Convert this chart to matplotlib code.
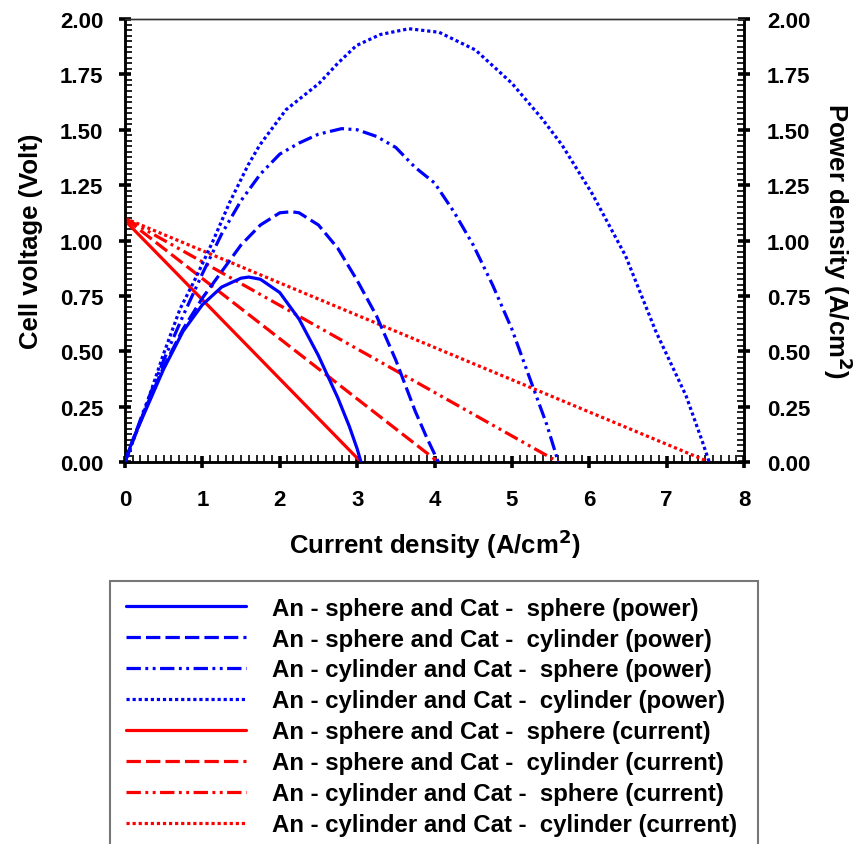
import matplotlib
matplotlib.use("Agg")
import matplotlib.pyplot as plt
from matplotlib.ticker import MultipleLocator

plt.rcParams['font.family'] = ['Liberation Sans', 'DejaVu Sans']

# ---- data ----
I_ss_p = [0, 0.1, 0.25, 0.4, 0.5, 0.75, 1.0, 1.25, 1.5, 1.6, 1.75, 2.0, 2.25, 2.5, 2.75, 2.9, 3.0, 3.05]
P_ss = [0, 0.10, 0.22, 0.34, 0.42, 0.59, 0.71, 0.79, 0.83, 0.835, 0.825, 0.765, 0.645, 0.48, 0.29, 0.16, 0.06, 0]

I_sc_p = [0, 0.25, 0.5, 0.75, 1.0, 1.25, 1.5, 1.75, 2.0, 2.15, 2.25, 2.5, 2.75, 3.0, 3.25, 3.5, 3.75, 3.9, 4.05]
P_sc = [0, 0.23, 0.43, 0.60, 0.74, 0.86, 0.98, 1.07, 1.125, 1.13, 1.125, 1.07, 0.965, 0.82, 0.66, 0.46, 0.23, 0.11, 0]

I_cs_p = [0, 0.25, 0.5, 0.75, 1.0, 1.25, 1.5, 1.75, 2.0, 2.25, 2.5, 2.8, 3.0, 3.25, 3.5, 3.75,
          4.0, 4.25, 4.5, 4.75, 5.0, 5.25, 5.45, 5.6]
P_cs = [0, 0.24, 0.46, 0.66, 0.85, 1.03, 1.18, 1.30, 1.39, 1.44, 1.48, 1.505, 1.50, 1.47, 1.42, 1.33,
        1.26, 1.13, 0.98, 0.80, 0.60, 0.36, 0.17, 0]

I_cc_p = [0, 0.24, 0.49, 0.71, 0.92, 1.14, 1.35, 1.59, 1.74, 2.08, 2.51, 2.75, 2.99, 3.3, 3.67, 4.06,
          4.53, 5.0, 5.39, 5.65, 6.04, 6.47, 6.86, 7.25, 7.46, 7.55]
P_cc = [0, 0.22, 0.48, 0.69, 0.835, 1.0, 1.17, 1.34, 1.43, 1.59, 1.71, 1.80, 1.88, 1.93, 1.956, 1.94,
        1.86, 1.71, 1.55, 1.43, 1.21, 0.93, 0.59, 0.30, 0.094, 0]

I_ss_v = [0, 3.05]
V_ss = [1.09, 0]
I_sc_v = [0, 4.05]
V_sc = [1.1, 0]
I_cs_v = [0, 5.6]
V_cs = [1.1, 0]
I_cc_v = [0, 7.55]
V_cc = [1.1, 0]

x_ticks = [0, 1, 2, 3, 4, 5, 6, 7, 8]
y_ticks = [0, 0.25, 0.5, 0.75, 1.0, 1.25, 1.5, 1.75, 2.0]

labels = [
    "An - sphere and Cat -  sphere (power)",
    "An - sphere and Cat -  cylinder (power)",
    "An - cylinder and Cat -  sphere (power)",
    "An - cylinder and Cat -  cylinder (power)",
    "An - sphere and Cat -  sphere (current)",
    "An - sphere and Cat -  cylinder (current)",
    "An - cylinder and Cat -  sphere (current)",
    "An - cylinder and Cat -  cylinder (current)",
]

# ---- styles ----
lw = 2.3
styles = [
    '-',
    (0, (4.5, 1.6)),
    (0, (4.5, 1.4, 0.9, 1.4, 0.9, 1.4)),
    (0, (1.0, 0.9)),
]
blue = '#0000ff'
red = '#ff0000'

fig = plt.figure(figsize=(8.59, 8.45), dpi=100)
ax = fig.add_axes([125/859, 1-463/845, (744-125)/859, (463-20)/845])
ax2 = ax.twinx()

power = [(I_ss_p, P_ss), (I_sc_p, P_sc), (I_cs_p, P_cs), (I_cc_p, P_cc)]
volt = [(I_ss_v, V_ss), (I_sc_v, V_sc), (I_cs_v, V_cs), (I_cc_v, V_cc)]

handles = []
for (x, y), ls in zip(power, styles):
    h, = ax2.plot(x, y, color=blue, lw=lw, linestyle=ls, solid_capstyle='round',
                  dash_capstyle='butt', solid_joinstyle='round', zorder=3)
    handles.append(h)
for (x, y), ls in zip(volt, styles):
    h, = ax.plot(x, y, color=red, lw=lw, linestyle=ls, solid_capstyle='round',
                 dash_capstyle='butt', zorder=3)
    handles.append(h)

for a in (ax, ax2):
    a.set_xlim(0, 8)
    a.set_ylim(0, 2.0)
    a.yaxis.set_major_locator(MultipleLocator(0.25))
    a.yaxis.set_minor_locator(MultipleLocator(0.025))
    for s in a.spines.values():
        s.set_linewidth(1.8)
        s.set_color('black')
    a.spines['top'].set_linewidth(1.0)
    a.spines['top'].set_color('#333333')

ax.xaxis.set_minor_locator(MultipleLocator(0.1))

ax.tick_params(axis='both', which='major', direction='inout', length=9, width=2.6,
               labelsize=16, pad=11)
ax.tick_params(axis='both', which='minor', direction='in', length=5, width=1.2)
ax.tick_params(axis='x', which='major', pad=15)
ax2.tick_params(axis='y', which='major', direction='inout', length=9, width=2.6,
                labelsize=16, pad=12)
ax2.tick_params(axis='y', which='minor', direction='in', length=5, width=1.2)
ax.set_yticks(y_ticks)
ax2.set_yticks(y_ticks)
ax.set_yticklabels([f"{v:.2f}" for v in y_ticks], fontweight='bold')
ax2.set_yticklabels([f"{v:.2f}" for v in y_ticks], fontweight='bold')
ax.set_xticks(x_ticks)
ax.set_xticklabels([str(v) for v in x_ticks], fontweight='bold')

ax.set_xlabel("Current density (A/cm$^{\\mathbf{2}}$)", fontsize=18.5, fontweight='bold', labelpad=12)
ax.set_ylabel("Cell voltage (Volt)", fontsize=18.5, fontweight='bold', labelpad=12)
ax2.set_ylabel("Power density (A/cm$^{\\mathbf{2}}$)", fontsize=18.5, fontweight='bold',
               rotation=270, labelpad=32)

leg = fig.legend(handles, labels, loc='upper left',
                 bbox_to_anchor=(110/859, 1-582/845-0.01, (758-110)/859, 0.01),
                 mode='expand', ncol=1, frameon=True, fancybox=False,
                 handlelength=5.0, handletextpad=1.1, labelspacing=0.33,
                 borderpad=0.65, borderaxespad=0,
                 prop=dict(family=['Liberation Sans', 'DejaVu Sans'], size=17.3, weight='bold'))
leg.get_frame().set_edgecolor('#555555')
leg.get_frame().set_linewidth(1.5)

fig.savefig("out.png", dpi=100)
